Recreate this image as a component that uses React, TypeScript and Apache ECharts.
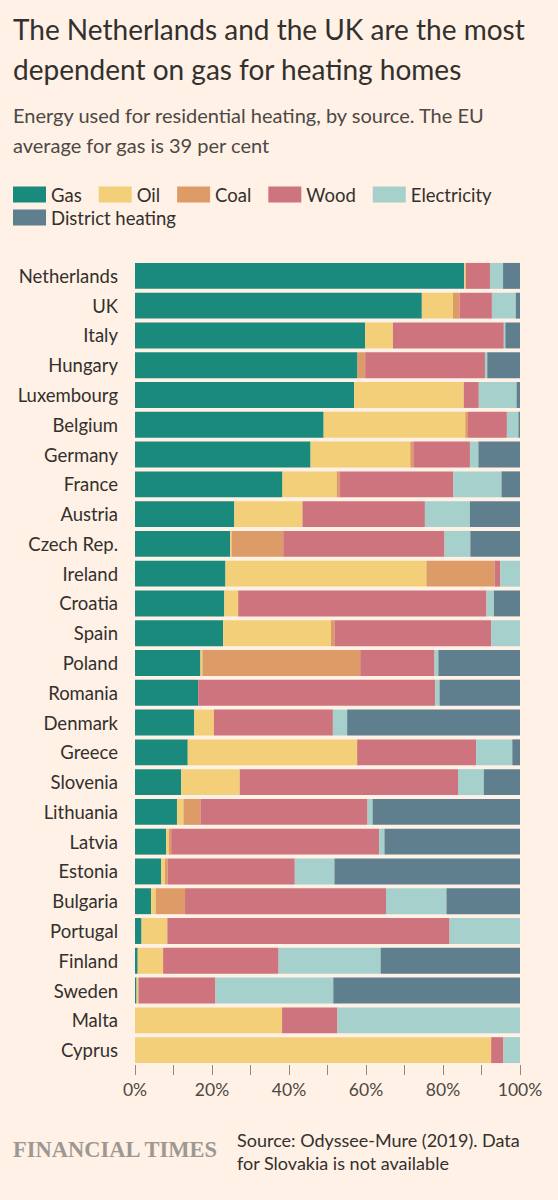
import { useEffect, useRef } from 'react';
import * as echarts from 'echarts';

const countries = [
  'Netherlands', 'UK', 'Italy', 'Hungary', 'Luxembourg', 'Belgium', 'Germany',
  'France', 'Austria', 'Czech Rep.', 'Ireland', 'Croatia', 'Spain', 'Poland',
  'Romania', 'Denmark', 'Greece', 'Slovenia', 'Lithuania', 'Latvia', 'Estonia',
  'Bulgaria', 'Portugal', 'Finland', 'Sweden', 'Malta', 'Cyprus'
];

const gas = [85.5, 74.5, 59.8, 57.8, 56.9, 49.0, 45.6, 38.3, 25.8, 24.7, 23.5, 23.2, 22.9, 17.0, 16.4, 15.4, 13.7, 12.0, 10.9, 8.1, 6.8, 4.2, 1.7, 0.7, 0.4, 0, 0];
const oil = [0.4, 8.1, 7.2, 0, 28.5, 36.8, 25.9, 14.1, 17.7, 0.4, 52.2, 3.6, 28.0, 0.5, 0, 5.1, 44.0, 15.2, 1.7, 0.7, 1.0, 1.2, 6.7, 6.6, 0.5, 38.2, 92.5];
const coal = [0, 1.7, 0, 2.0, 0, 0.7, 0.8, 0.8, 0, 13.4, 17.7, 0, 0.9, 41.0, 0, 0, 0, 0, 4.4, 0.6, 0.7, 7.6, 0, 0, 0, 0, 0];
const wood = [6.3, 8.4, 28.8, 31.1, 3.9, 10.1, 14.7, 29.5, 31.8, 41.9, 1.5, 64.5, 40.7, 19.3, 61.6, 30.9, 30.9, 56.7, 43.4, 54.0, 33.0, 52.2, 73.3, 30.0, 20.0, 14.4, 3.2];
const electricity = [3.4, 6.2, 0.4, 0.6, 9.8, 3.0, 2.2, 12.5, 11.7, 6.7, 5.1, 1.9, 7.5, 1.0, 1.1, 3.7, 9.4, 6.7, 1.3, 1.4, 10.3, 15.7, 18.3, 26.5, 30.6, 47.4, 4.3];
const districtHeating = [4.4, 1.1, 3.8, 8.5, 0.9, 0.4, 10.8, 4.8, 13.0, 12.9, 0, 6.8, 0, 21.2, 20.9, 44.9, 2.0, 9.4, 38.3, 35.2, 48.2, 19.1, 0, 36.2, 48.5, 0, 0];

const sources = [
  { name: 'Gas', data: gas, color: '#1a8a7c' },
  { name: 'Oil', data: oil, color: '#f2cf78' },
  { name: 'Coal', data: coal, color: '#dd9b68' },
  { name: 'Wood', data: wood, color: '#ce747e' },
  { name: 'Electricity', data: electricity, color: '#a6d0cb' },
  { name: 'District heating', data: districtHeating, color: '#5f7f8f' }
];

const FONT = 'Lato, "Noto Sans", sans-serif';

const legendBase = {
  left: 13,
  padding: 0,
  itemWidth: 33,
  itemHeight: 16,
  itemGap: 17,
  icon: 'rect',
  selectedMode: false,
  textStyle: { fontFamily: FONT, fontSize: 18.5, color: '#33302e', padding: [0, 0, 0, 0] }
};

const App = () => {
  const chartRef = useRef<HTMLDivElement>(null);

  useEffect(() => {
    document.body.style.margin = '0';
    if (!chartRef.current) return;
    const chart = echarts.init(chartRef.current, undefined, { renderer: 'svg' });

    chart.setOption({
      animation: false,
      backgroundColor: '#fff1e5',
      textStyle: { fontFamily: FONT },
      title: [
        {
          text: 'The Netherlands and the UK are the most\ndependent on gas for heating homes',
          left: 13,
          top: 9,
          padding: 0,
          textStyle: { fontFamily: FONT, fontSize: 28, fontWeight: 'normal', color: '#33302e', lineHeight: 40 }
        },
        {
          text: 'Energy used for residential heating, by source. The EU\naverage for gas is 39 per cent',
          left: 13,
          top: 100,
          padding: 0,
          textStyle: { fontFamily: FONT, fontSize: 20, fontWeight: 'normal', color: '#4d4845', lineHeight: 30 }
        }
      ],
      legend: [
        { ...legendBase, data: sources.slice(0, 5).map(s => s.name), top: 185 },
        { ...legendBase, data: ['District heating'], top: 208 }
      ],
      grid: { left: 135, right: 38, top: 261, height: 804 },
      xAxis: {
        type: 'value',
        min: 0,
        max: 100,
        interval: 10,
        splitLine: { show: false },
        axisLine: { show: false },
        axisTick: { show: true, length: 10, lineStyle: { color: '#8f8983' } },
        axisLabel: {
          margin: 15,
          fontSize: 17.5,
          color: '#4d4845',
          fontFamily: FONT,
          formatter: (v: number) => (v % 20 === 0 ? v + '%' : '')
        }
      },
      yAxis: {
        type: 'category',
        data: countries,
        inverse: true,
        axisLine: { show: false },
        axisTick: { show: false },
        axisLabel: { margin: 17, fontSize: 18.5, color: '#33302e', fontFamily: FONT }
      },
      series: sources.map(s => ({
        name: s.name,
        type: 'bar',
        stack: 'total',
        data: s.data,
        barCategoryGap: '13%',
        itemStyle: { color: s.color }
      })),
      graphic: [
        {
          type: 'text',
          left: 13,
          top: 1138,
          style: {
            text: 'FINANCIAL TIMES',
            fontFamily: '"Liberation Serif", "DejaVu Serif", serif',
            fontSize: 22.5,
            fontWeight: 'bold',
            fill: '#9e9892'
          }
        },
        {
          type: 'text',
          left: 237,
          top: 1128,
          style: {
            text: 'Source: Odyssee-Mure (2019). Data\nfor Slovakia is not available',
            fontFamily: FONT,
            fontSize: 18,
            lineHeight: 23.5,
            fill: '#33302e'
          }
        }
      ]
    });

    return () => {
      chart.dispose();
    };
  }, []);

  return <div ref={chartRef} style={{ width: 558, height: 1200 }} />;
};

export default App;
